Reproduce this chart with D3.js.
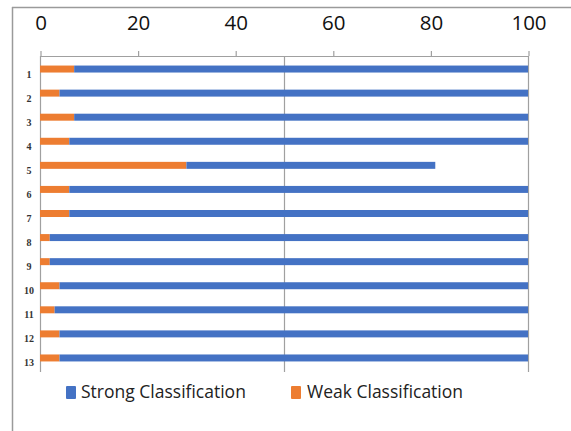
<!DOCTYPE html>
<html>
<head>
<meta charset="utf-8">
<script src="https://cdn.jsdelivr.net/npm/d3@7"></script>
<style>
  html, body { margin: 0; padding: 0; background: #fff; }
  svg { display: block; }
</style>
</head>
<body>
<svg id="chart" width="571" height="431"></svg>
<script>
// Row labels (items 1..13)
const categories = ["1","2","3","4","5","6","7","8","9","10","11","12","13"];
// Share of weak classification per item (%)
const weakValues = [7, 4, 7, 6, 30, 6, 6, 2, 2, 4, 3, 4, 4];
// Share of strong classification per item (%)
const strongValues = [93, 96, 93, 94, 51, 94, 94, 98, 98, 96, 97, 96, 96];
// Axis ticks along the top
const tickValues = [0, 20, 40, 60, 80, 100];
// Series names in legend order
const seriesNames = ["Strong Classification", "Weak Classification"];
const seriesColors = { "Strong Classification": "#4472C4", "Weak Classification": "#ED7D31" };

const svg = d3.select("#chart");

// outer frame (top and left edges visible)
svg.append("line").attr("x1", 12).attr("x2", 571).attr("y1", 7.5).attr("y2", 7.5)
  .attr("stroke", "#9a9a9a").attr("stroke-width", 1.5);
svg.append("line").attr("x1", 12.5).attr("x2", 12.5).attr("y1", 7).attr("y2", 431)
  .attr("stroke", "#9a9a9a").attr("stroke-width", 1.5);

const x = d3.scaleLinear().domain([0, 100]).range([40, 528]);
const y = d3.scaleBand().domain(categories).range([57, 370]).paddingInner(0.71).paddingOuter(0.355);

const axisY = 56;
const plotBottom = 372;

// vertical reference lines at 0, 50, 100
svg.append("g").selectAll("line").data([0, 50, 100]).join("line")
  .attr("x1", d => x(d) + 0.5).attr("x2", d => x(d) + 0.5)
  .attr("y1", axisY).attr("y2", plotBottom)
  .attr("stroke", "#a0a0a0").attr("stroke-width", 1.2);

// stacked bars: weak first, strong after
const rows = categories.map((c, i) => ({ cat: c, weak: weakValues[i], strong: strongValues[i] }));
const stack = d3.stack().keys(["weak", "strong"]);
const layers = stack(rows);
const layerColor = { weak: seriesColors["Weak Classification"], strong: seriesColors["Strong Classification"] };

svg.append("g").selectAll("g").data(layers).join("g")
  .attr("fill", d => layerColor[d.key])
  .selectAll("rect").data(d => d).join("rect")
  .attr("x", d => x(d[0]))
  .attr("width", d => x(d[1]) - x(d[0]))
  .attr("y", d => y(d.data.cat))
  .attr("height", y.bandwidth());

// top axis
const axis = d3.axisTop(x).tickValues(tickValues).tickSizeInner(5).tickSizeOuter(0).tickPadding(21);
const gAxis = svg.append("g").attr("transform", `translate(0.5,${axisY})`).call(axis);
gAxis.select(".domain").attr("stroke", "#a0a0a0").attr("stroke-width", 1.2);
gAxis.selectAll(".tick line").attr("stroke", "#a0a0a0").attr("stroke-width", 1.2);
gAxis.selectAll(".tick text")
  .attr("font-family", "'Open Sans', sans-serif")
  .attr("font-size", 20.5)
  .attr("fill", "#111");

// row labels
svg.append("g").selectAll("text").data(categories).join("text")
  .attr("x", 29)
  .attr("y", d => y(d) + y.bandwidth() / 2 + 8.5)
  .attr("text-anchor", "middle")
  .attr("font-family", "'Liberation Serif', serif")
  .attr("font-weight", "bold")
  .attr("font-size", 10)
  .attr("fill", "#333")
  .text(d => d);

// legend
const legendItems = [
  { name: seriesNames[0], sx: 66, tx: 81 },
  { name: seriesNames[1], sx: 291, tx: 307 }
];
const lg = svg.append("g").selectAll("g").data(legendItems).join("g");
lg.append("rect")
  .attr("x", d => d.sx).attr("y", 386).attr("width", 10).attr("height", 13).attr("rx", 1)
  .attr("fill", d => seriesColors[d.name]);
lg.append("text")
  .attr("x", d => d.tx).attr("y", 398)
  .attr("font-family", "'Open Sans', sans-serif")
  .attr("font-size", 17.5)
  .attr("fill", "#222")
  .text(d => d.name);
</script>
</body>
</html>
